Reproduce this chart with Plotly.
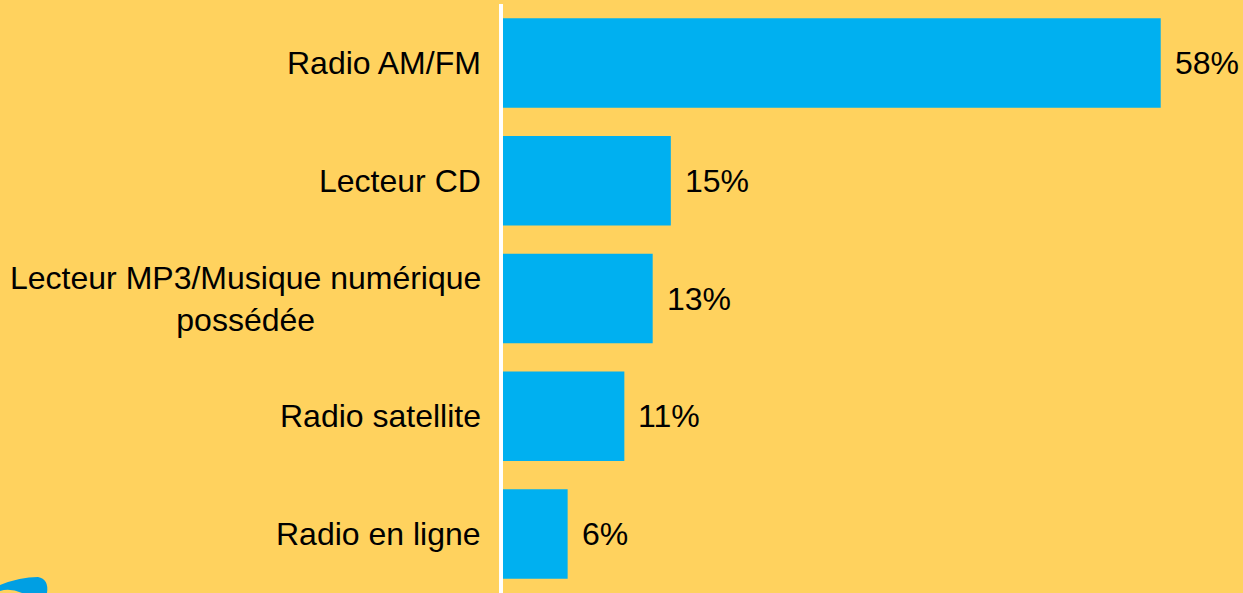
import plotly.graph_objects as go

# ── Data ────────────────────────────────────────────────────────────────────
categories = [
    "Radio AM/FM",
    "Lecteur CD",
    "Lecteur MP3/Musique numérique<br>possédée",
    "Radio satellite",
    "Radio en ligne",
]
# bar lengths (labels are rounded)
values = [58, 14.8, 13.2, 10.7, 5.7]
value_labels = ["58%", "15%", "13%", "11%", "6%"]

# ── Style ───────────────────────────────────────────────────────────────────
BG = "#FFD25E"
BAR = "#00B0F0"
LOGO = "#009FE3"
FONT = "Liberation Sans, Arial, sans-serif"

W, H = 1243, 593
ML, MR, MT, MB = 503, 0, 4, 0

fig = go.Figure(
    go.Bar(
        x=values,
        y=categories,
        orientation="h",
        marker=dict(color=BAR, line=dict(width=0)),
        hoverinfo="skip",
    )
)

# category labels (centred multi-line, left of the axis)
for cat in categories:
    fig.add_annotation(
        x=0, y=cat, xref="x", yref="y",
        text=cat, showarrow=False,
        xanchor="right", align="center",
        xshift=-20,
        font=dict(size=32, color="black", family=FONT),
    )

# value labels
for v, lab, cat in zip(values, value_labels, categories):
    fig.add_annotation(
        x=v, y=cat, xref="x", yref="y",
        text=lab, showarrow=False,
        xanchor="left", xshift=12,
        font=dict(size=32, color="black", family=FONT),
    )


# partial logo swoosh in the bottom-left corner (pixel -> paper coords)
def px(x, y):
    return f"{(x - ML) / (W - ML - MR):.4f},{(H - MB - y) / (H - MT - MB):.4f}"


logo_path = (
    f"M {px(0, 585)} Q {px(20, 577)} {px(38, 577)} Q {px(49, 579)} {px(47, 593)} "
    f"L {px(22, 593)} Q {px(10, 588)} {px(0, 591)} Z"
)
fig.add_shape(
    type="path", path=logo_path, xref="paper", yref="paper",
    fillcolor=LOGO, line=dict(width=0), layer="above",
)

fig.update_layout(
    width=W,
    height=H,
    paper_bgcolor=BG,
    plot_bgcolor=BG,
    margin=dict(l=ML, r=MR, t=MT, b=MB),
    bargap=0.24,
    showlegend=False,
    xaxis=dict(
        range=[0, (W - ML - MR) / 11.34],
        visible=False,
        fixedrange=True,
    ),
    yaxis=dict(
        autorange="reversed",
        showticklabels=False,
        showgrid=False,
        zeroline=False,
        showline=True,
        linecolor="white",
        linewidth=4,
        ticks="",
        fixedrange=True,
    ),
)

fig.write_html(
    "out.html",
    config={"displayModeBar": False},
    post_script="document.body.style.margin='0';",
)
